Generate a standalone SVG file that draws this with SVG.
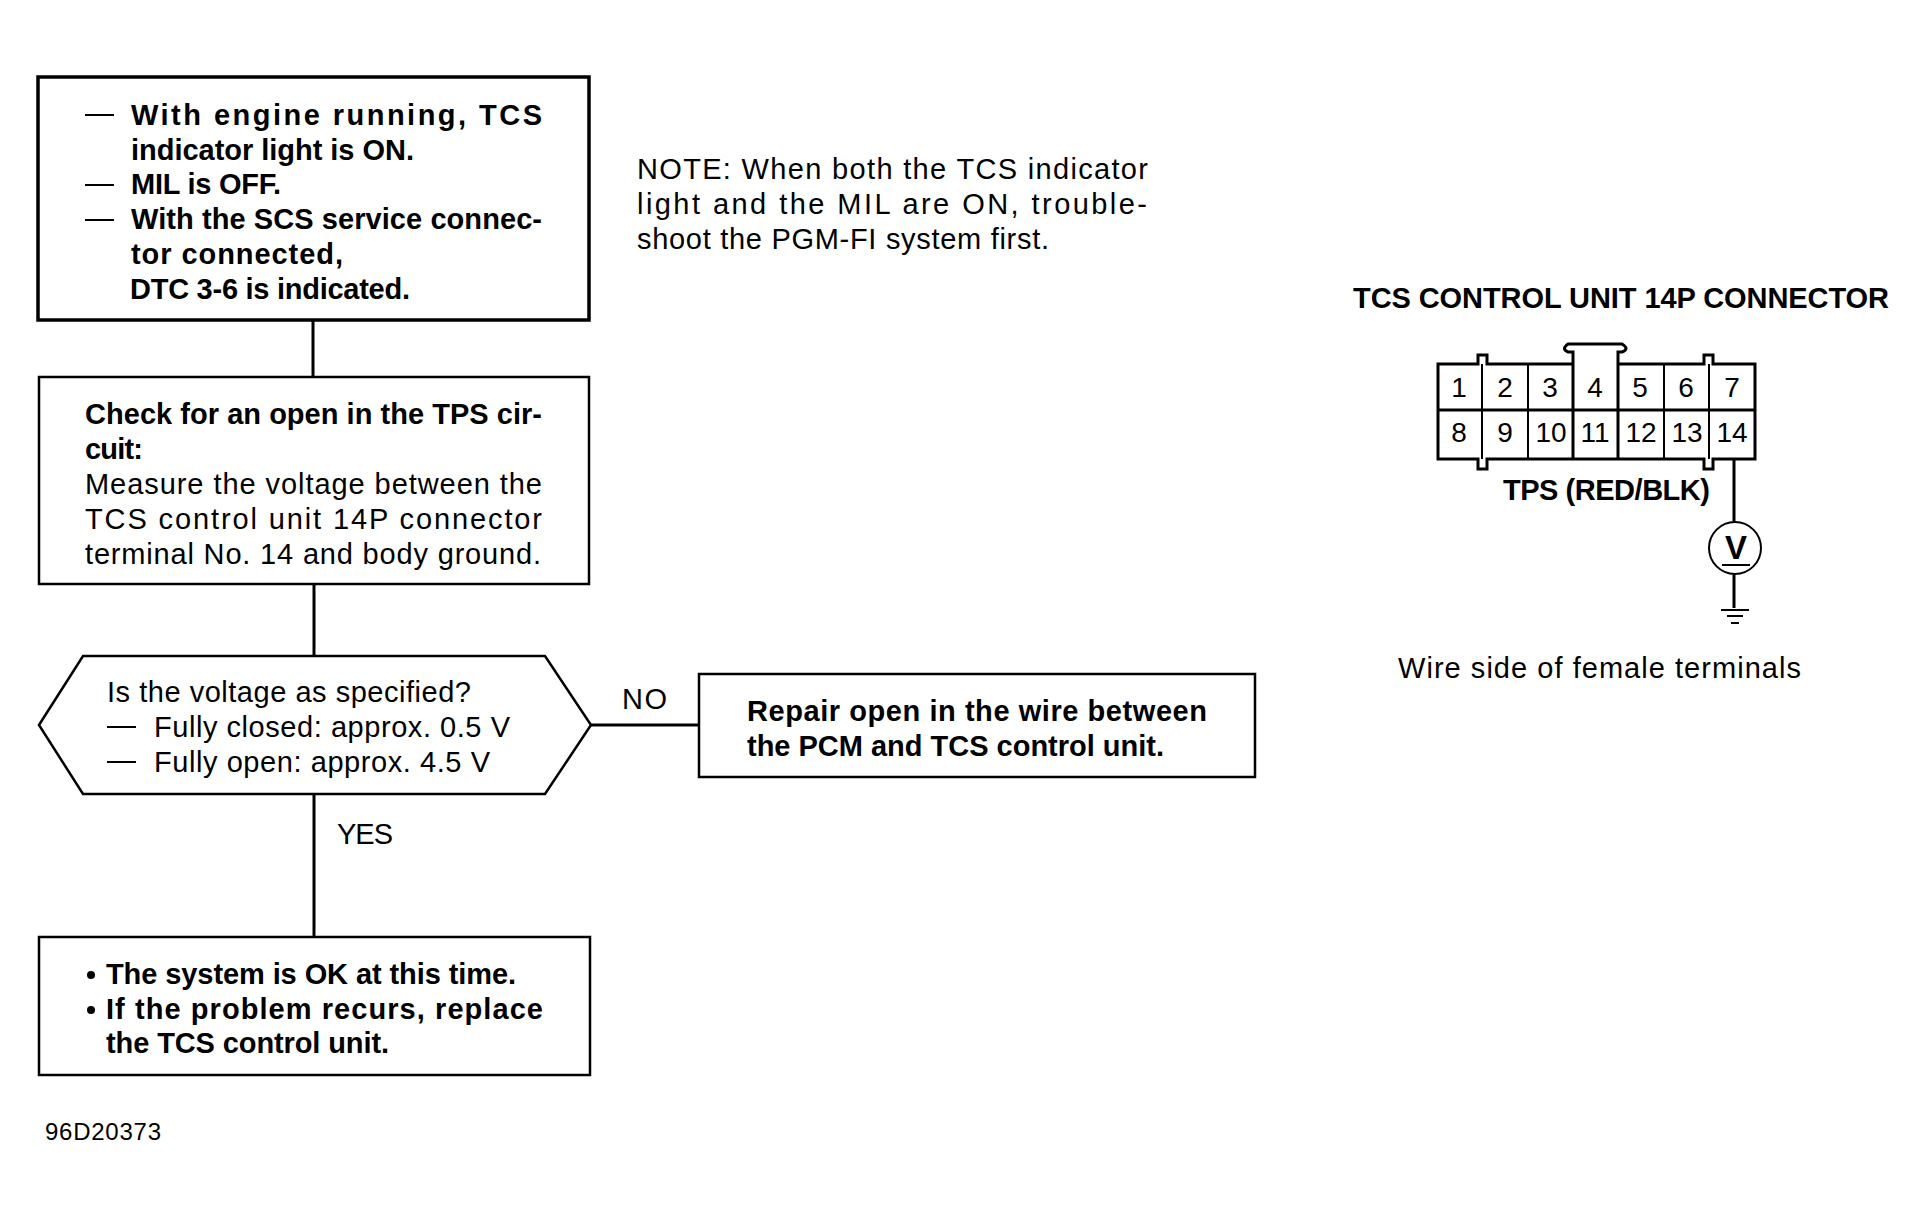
<svg xmlns="http://www.w3.org/2000/svg" width="1924" height="1216" viewBox="0 0 1924 1216">
<style>
text{font-family:"Liberation Sans",Arial,sans-serif;font-size:29px;fill:#000}
.b{font-weight:700}
.d{font-size:28px;text-anchor:middle}
.box{fill:#fff;stroke:#000;stroke-width:2.5}
.thick{stroke-width:3.5}
.w{stroke:#000;stroke-width:3;fill:none}
.t{stroke:#000;stroke-width:2;fill:none}
</style>
<rect width="1924" height="1216" fill="#fff"/>
<g id="connectors">
<path class="w" d="M313 320V377"/>
<path class="w" d="M314 584V656"/>
<path class="w" d="M591 725H699"/>
<path class="w" d="M314 794V937"/>
</g>
<g id="start">
<rect class="box thick" x="38" y="77" width="551" height="243"/>
<path class="t" d="M85 115H114M85 185H114M85 220H114"/>
<text class="b" x="131" y="125" textLength="411">With engine running, TCS</text>
<text class="b" x="131" y="160" textLength="283">indicator light is ON.</text>
<text class="b" x="131" y="194" textLength="150">MIL is OFF.</text>
<text class="b" x="131" y="229" textLength="411">With the SCS service connec-</text>
<text class="b" x="131" y="264" textLength="212">tor connected,</text>
<text class="b" x="130" y="299" textLength="280">DTC 3-6 is indicated.</text>
</g>
<g id="check">
<rect class="box" x="39" y="377" width="550" height="207"/>
<text class="b" x="85" y="424" textLength="457">Check for an open in the TPS cir-</text>
<text class="b" x="85" y="459" textLength="58">cuit:</text>
<text x="85" y="494" textLength="457">Measure the voltage between the</text>
<text x="85" y="529" textLength="457">TCS control unit 14P connector</text>
<text x="85" y="564" textLength="456">terminal No. 14 and body ground.</text>
</g>
<g id="decision">
<path class="box" d="M39 725L83 656H545L591 725L545 794H83Z"/>
<text x="107" y="702" textLength="364">Is the voltage as specified?</text>
<path class="t" d="M107 727H136M107 762H136"/>
<text x="154" y="737" textLength="356">Fully closed: approx. 0.5 V</text>
<text x="154" y="772" textLength="336">Fully open: approx. 4.5 V</text>
</g>
<text x="622" y="709" textLength="45">NO</text>
<text x="337" y="844" textLength="56">YES</text>
<g id="repair">
<rect class="box" x="699" y="674" width="556" height="103"/>
<text class="b" x="747" y="721" textLength="460">Repair open in the wire between</text>
<text class="b" x="747" y="756" textLength="417">the PCM and TCS control unit.</text>
</g>
<g id="end">
<rect class="box" x="39" y="937" width="551" height="138"/>
<circle cx="91" cy="975" r="4"/>
<circle cx="91" cy="1010" r="4"/>
<text class="b" x="106" y="984" textLength="410">The system is OK at this time.</text>
<text class="b" x="106" y="1019" textLength="437">If the problem recurs, replace</text>
<text class="b" x="106" y="1053" textLength="283">the TCS control unit.</text>
</g>
<text x="45" y="1140" style="font-size:24px" textLength="116">96D20373</text>
<g id="note">
<text x="637" y="179" textLength="511">NOTE: When both the TCS indicator</text>
<text x="637" y="214" textLength="510">light and the MIL are ON, trouble-</text>
<text x="637" y="249" textLength="412">shoot the PGM-FI system first.</text>
</g>
<g id="connector-diagram">
<text class="b" x="1353" y="308" textLength="536">TCS CONTROL UNIT 14P CONNECTOR</text>
<path class="w" d="M1573 364V352H1568Q1561 349 1568 344H1622Q1630 349 1622 352H1618V364"/>
<path class="w" d="M1573 364H1487V355H1478V364H1438V459H1478V469H1487V459H1704V469H1713V459H1755V364H1713V355H1704V364H1618"/>
<path class="w" d="M1438 410H1755M1573 364V459M1618 364V459"/>
<path class="t" d="M1482 364V459M1528 364V459M1664 364V459M1709 364V459"/>
<g>
<text class="d" x="1459" y="397">1</text><text class="d" x="1505" y="397">2</text><text class="d" x="1550" y="397">3</text><text class="d" x="1595" y="397">4</text><text class="d" x="1640" y="397">5</text><text class="d" x="1686" y="397">6</text><text class="d" x="1732" y="397">7</text>
<text class="d" x="1459" y="442">8</text><text class="d" x="1505" y="442">9</text><text class="d" x="1551" y="442">10</text><text class="d" x="1595" y="442">11</text><text class="d" x="1641" y="442">12</text><text class="d" x="1687" y="442">13</text><text class="d" x="1732" y="442">14</text>
</g>
<text class="b" x="1503" y="500" textLength="207">TPS (RED/BLK)</text>
<path class="w" d="M1734 459V522M1734 574V608"/>
<circle class="t" cx="1735" cy="548" r="26"/>
<text class="b" x="1736" y="559" style="font-size:33px;text-anchor:middle">V</text>
<path class="t" d="M1722 565H1750"/>
<path class="t" d="M1721 610H1749M1727 616H1743M1731 623H1739"/>
<text x="1398" y="678" textLength="403">Wire side of female terminals</text>
</g>
</svg>
